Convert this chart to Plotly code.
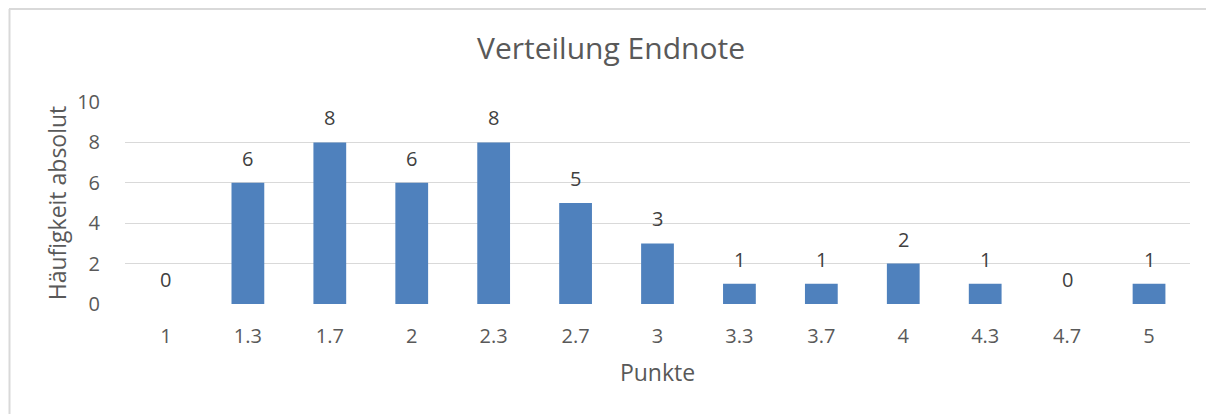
import plotly.graph_objects as go

categories = ["1", "1.3", "1.7", "2", "2.3", "2.7", "3", "3.3", "3.7", "4", "4.3", "4.7", "5"]
counts = [0, 6, 8, 6, 8, 5, 3, 1, 1, 2, 1, 0, 1]
y_ticks = [0, 2, 4, 6, 8, 10]

# page has an 8px body margin; figure starts at (8, 8)
OFF = 8
W, H = 1214 - OFF, 414 - OFF
L, R, T, B = 125 - OFF, 24, 102 - OFF, 110
pw, ph = W - L - R, H - T - B

def px_x(p):
    return (p - OFF - L) / pw

def px_y(p):
    return (H - B - (p - OFF)) / ph

fig = go.Figure(go.Bar(
    x=categories, y=counts,
    marker=dict(color="#4F81BD", line=dict(width=0)),
    cliponaxis=False,
))

# on a category axis, annotation x is the category index
for i, v in enumerate(counts):
    fig.add_annotation(x=i, y=v, text=str(v), showarrow=False, yanchor="bottom",
                       yshift=9, font=dict(size=20, color="#404040"))

fig.update_layout(
    width=W, height=H,
    margin=dict(l=L, r=R, t=T, b=B),
    paper_bgcolor="white", plot_bgcolor="white",
    font=dict(family="Open Sans, Noto Sans, sans-serif", color="#595959"),
    bargap=0.6,
    showlegend=False,
    title=dict(text="Verteilung Endnote", x=px_x(611), xref="paper", xanchor="center",
               y=1 - (48 - OFF) / H, yanchor="middle", font=dict(size=30, color="#595959")),
    xaxis=dict(type="category", showgrid=False, zeroline=False, showline=False,
               ticks="outside", ticklen=14, tickcolor="rgba(0,0,0,0)",
               tickfont=dict(size=20, color="#595959"),
               title=dict(text="Punkte", font=dict(size=23, color="#595959"), standoff=16)),
    yaxis=dict(range=[0, 10], tickvals=y_ticks, showgrid=True, gridcolor="#d9d9d9",
               gridwidth=1, zeroline=False, showline=False,
               ticks="outside", ticklen=20, tickcolor="rgba(0,0,0,0)",
               tickfont=dict(size=20, color="#595959"),
               title=dict(text="Häufigkeit absolut", font=dict(size=23, color="#595959"), standoff=4)),
    shapes=[
        dict(type="line", xref="paper", yref="paper", x0=px_x(9), x1=px_x(1214), y0=px_y(9), y1=px_y(9),
             line=dict(color="#d9d9d9", width=2)),
        dict(type="line", xref="paper", yref="paper", x0=px_x(9.5), x1=px_x(9.5), y0=px_y(9), y1=px_y(414),
             line=dict(color="#d9d9d9", width=2)),
    ],
)

fig.write_html("out.html")
